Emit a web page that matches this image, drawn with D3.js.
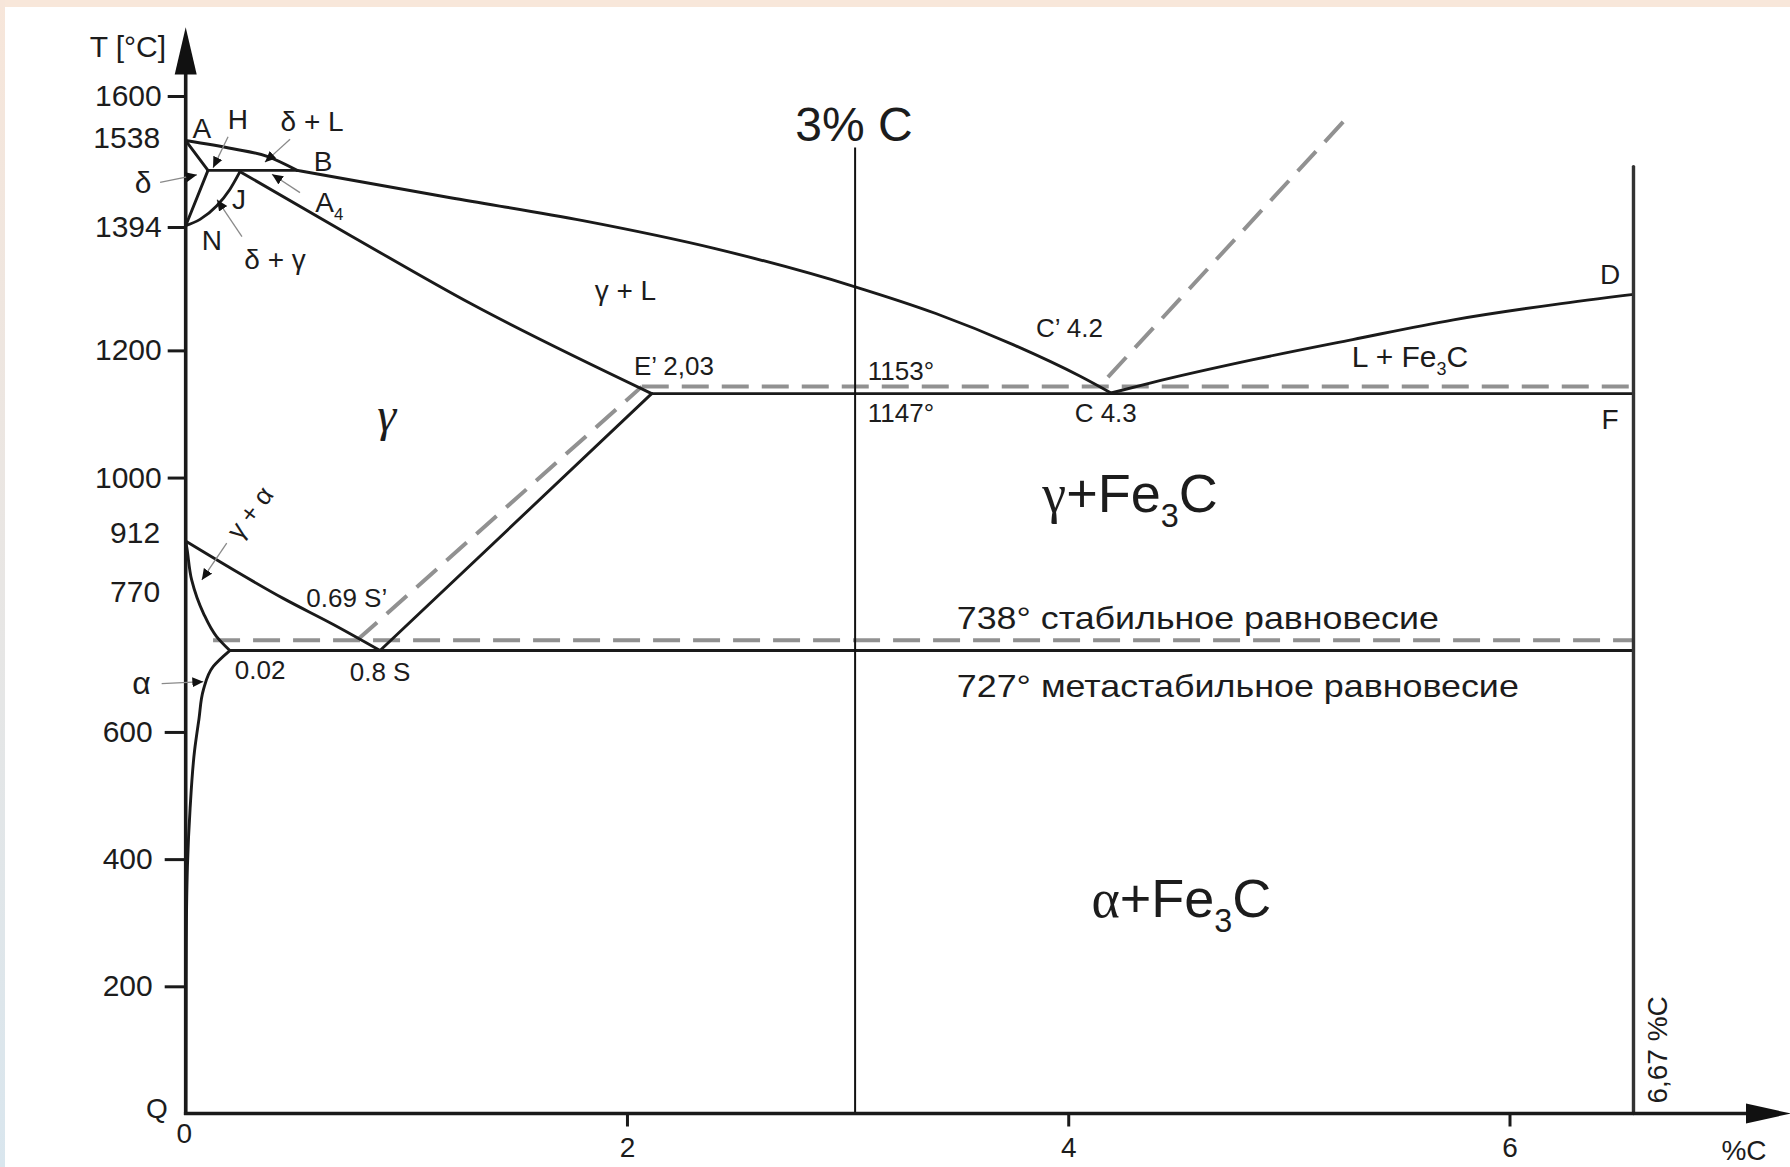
<!DOCTYPE html>
<html><head><meta charset="utf-8">
<script src="https://cdn.jsdelivr.net/npm/d3@7"></script>
<style>
html,body{margin:0;padding:0;background:#fff;}
svg{display:block;}
text{font-family:"Liberation Sans",Arial,sans-serif;fill:#1c1c1c;}
</style></head><body>
<svg id="c" width="1790" height="1167"></svg>
<script>
// ---------- DATA (x = % C, T = °C as placed on the picture) ----------
const xTickValues = [2, 4, 6];
const yTickValues = [200, 400, 600, 1000, 1200, 1394, 1600];
const yMarkLabels = ["1538", "912", "770"];
const yMarkTemps  = [1535, 913, 821];

const liquidusAB = [[0,1530],[0.214,1517],[0.369,1505],[0.505,1483]];
const liquidusBC = [[0.505,1483],[1.2,1440],[1.8,1404],[2.4,1360],[3.034,1300],[3.4,1258],[3.75,1209],[4.05,1160],[4.194,1133]];
const liquidusCD = [[4.194,1133],[4.375,1149],[4.833,1185],[5.289,1217],[5.746,1248],[6.202,1272],[6.562,1288]];
const solidusAH  = [[0,1530],[0.101,1483]];
const lineHN     = [[0.101,1483],[0,1396]];
const lineNJ     = [[0,1396],[0.065,1406],[0.14,1427],[0.2,1453],[0.246,1481]];
const peritectic = [[0.101,1483],[0.505,1483]];
const solidusJE  = [[0.246,1481],[0.75,1380],[1.3,1272],[2.112,1132]];
const lineGS     = [[0,900],[0.216,855],[0.442,810],[0.669,769],[0.881,728]];
const lineGP     = [[0,900],[0.005,890],[0.027,839],[0.08,787],[0.14,750],[0.2,728]];
const linePQ     = [[0.2,728],[0.125,703],[0.08,666],[0.06,620],[0.04,570],[0.02,480],[0.008,390],[0.002,250],[0,0]];
const lineSE     = [[0.881,728],[2.112,1132]];
const eutectic   = [[2.112,1132],[6.562,1132]];
const eutectoid  = [[0.2,728],[6.562,728]];
const cementite  = [[6.562,0],[6.562,1489]];
const alloy3C    = [[3.034,0],[3.034,1519]];

const stableSE        = [[0.776,744],[2.067,1143]];
const stableEutectic  = [[2.067,1143],[6.562,1143]];
const stableEutectoid = [[0.124,744],[6.562,744]];
const stableLiquidus  = [[4.18,1158],[5.264,1566]];

const pointerFrom = [[-0.116,1464],[0.192,1536],[0.473,1532],[0.518,1448],[0.255,1379],[0.186,897],[-0.109,676]];
const pointerTo   = [[0.051,1476],[0.124,1487],[0.359,1496],[0.391,1477],[0.142,1437],[0.073,839],[0.08,679]];

// label texts (parts: [text, kind]) kind: n normal, s subscript, g serif
const labelTexts = [
  [["T [°C]","n"]], [["δ","n"]], [["A","n"]], [["H","n"]], [["δ + L","n"]], [["B","n"]],
  [["A","n"],["4","s"]], [["J","n"]], [["N","n"]], [["δ + γ","n"]], [["γ + L","n"]],
  [["E’ 2,03","n"]], [["1153°","n"]], [["1147°","n"]], [["C’ 4.2","n"]], [["C 4.3","n"]],
  [["L + Fe","n"],["3","s"],["C","n"]], [["D","n"]], [["F","n"]], [["γ","g"]],
  [["γ + α","n"]], [["0.69 S’","n"]], [["0.02","n"]], [["0.8 S","n"]], [["α","n"]],
  [["γ","g"],["+Fe","n"],["3","s"],["C","n"]], [["α","g"],["+Fe","n"],["3","s"],["C","n"]],
  [["738° стабильное равновесие","n"]], [["727° метастабильное равновесие","n"]],
  [["3% C","n"]], [["6,67 %C","n"]], [["%C","n"]], [["Q","n"]], [["0","n"]]
];
const labelAt = [
  [-0.262,1678],[-0.193,1464],[0.073,1550],[0.237,1563],[0.573,1560],[0.623,1497],
  [0.651,1433],[0.242,1437],[0.119,1374],[0.405,1343],[1.993,1294],
  [2.213,1175],[3.242,1167],[3.242,1102],[4.006,1235],[4.17,1102],
  [5.549,1191],[6.456,1319],[6.456,1091],[0.911,1100],
  [0.291,945],[0.73,811],[0.337,698],[0.881,695],[-0.2,677],
  [4.28,975],[4.513,339],
  [3.495,780],[3.495,672],
  [3.029,1555],[6.669,100],[7.063,-58],[-0.131,9],[-0.006,-31]
];

// ---------- LAYOUT ----------
const W = 1790, H = 1167;
const svg = d3.select("#c");
const x = d3.scaleLinear().domain([0, 6]).range([185.7, 1509.5]);
const y = d3.scaleLinear().domain([0, 1600]).range([1113.5, 96]);

const defs = svg.append("defs");
const lg = defs.append("linearGradient").attr("id","lb").attr("x1",0).attr("y1",0).attr("x2",0).attr("y2",1);
lg.append("stop").attr("offset","0%").attr("stop-color","#f7e6da");
lg.append("stop").attr("offset","100%").attr("stop-color","#d9e6ee");
defs.append("marker").attr("id","ah").attr("viewBox","0 -5 10 10").attr("refX",10).attr("refY",0)
  .attr("markerWidth",11).attr("markerHeight",11).attr("markerUnits","userSpaceOnUse").attr("orient","auto")
  .append("path").attr("d","M0,-4.5L10,0L0,4.5Z").attr("fill","#111");

svg.append("rect").attr("width",W).attr("height",H).attr("fill","#fff");
svg.append("rect").attr("x",0).attr("y",0).attr("width",W).attr("height",7).attr("fill","#f8e7da");
svg.append("rect").attr("x",0).attr("y",0).attr("width",5).attr("height",H).attr("fill","url(#lb)");

const lineX = d3.line().x(d => x(d[0])).y(d => y(d[1])).curve(d3.curveMonotoneX);
const lineY = d3.line().x(d => x(d[0])).y(d => y(d[1])).curve(d3.curveMonotoneY);
const lineL = d3.line().x(d => x(d[0])).y(d => y(d[1]));

// dashed stable-equilibrium lines
const gDash = svg.append("g").attr("fill","none").attr("stroke","#919191").attr("stroke-width",4).attr("stroke-dasharray","27,13");
[stableSE, stableEutectic, stableEutectoid, stableLiquidus].forEach(d => gDash.append("path").attr("d", lineL(d)));

// solid lines
const gSolid = svg.append("g").attr("fill","none").attr("stroke","#1a1a1a").attr("stroke-width",2.9).attr("stroke-linejoin","round").attr("stroke-linecap","round");
[liquidusAB, liquidusBC, liquidusCD, lineNJ, solidusJE, lineGS].forEach(d => gSolid.append("path").attr("d", lineX(d)));
[lineGP, linePQ].forEach(d => gSolid.append("path").attr("d", lineY(d)));
[solidusAH, lineHN, peritectic, lineSE, eutectic, eutectoid].forEach(d => gSolid.append("path").attr("d", lineL(d)));
gSolid.append("path").attr("d", lineL(cementite)).attr("stroke-width",3.4).attr("stroke","#333");
svg.append("path").attr("d", lineL(alloy3C)).attr("fill","none").attr("stroke","#111").attr("stroke-width",2);

// axes
const fmt = d3.format("d");
const yAxis = d3.axisLeft(y).tickValues(yTickValues).tickFormat(fmt).tickSize(18).tickPadding(6).tickSizeOuter(0);
const gy = svg.append("g").attr("transform",`translate(${x(0)},0)`).call(yAxis);
gy.select(".domain").remove();
gy.selectAll(".tick line").attr("stroke","#1a1a1a").attr("stroke-width",3);
gy.selectAll(".tick text").attr("font-size",30).attr("fill","#1c1c1c").attr("font-family",'"Liberation Sans",Arial,sans-serif');
// lower ticks are a little longer in the original, labels sit further left
gy.selectAll(".tick").filter(d => d < 1000).select("line").attr("x2", -21);
gy.selectAll(".tick").filter(d => d < 1000).select("text").attr("x", -33);

const xAxis = d3.axisBottom(x).tickValues(xTickValues).tickFormat(fmt).tickSize(13).tickPadding(11).tickSizeOuter(0);
const gx = svg.append("g").attr("transform",`translate(0,${y(0)})`).call(xAxis);
gx.select(".domain").remove();
gx.selectAll(".tick line").attr("stroke","#1a1a1a").attr("stroke-width",3);
gx.selectAll(".tick text").attr("font-size",28).attr("fill","#1c1c1c").attr("font-family",'"Liberation Sans",Arial,sans-serif');

// axis lines with arrows
svg.append("line").attr("x1",x(0)).attr("x2",x(0)).attr("y1",y(0)+1.5).attr("y2",y(1640)).attr("stroke","#1a1a1a").attr("stroke-width",3.6);
svg.append("path").attr("fill","#111")
  .attr("d",`M${x(0)},${y(1708)}L${x(0)+11},${y(1634)}L${x(0)-11},${y(1634)}Z`);
svg.append("line").attr("x1",x(0)-1.8).attr("x2",x(7.1)).attr("y1",y(0)).attr("y2",y(0)).attr("stroke","#1a1a1a").attr("stroke-width",3.6);
svg.append("path").attr("fill","#111")
  .attr("d",`M${x(7.275)},${y(0)}L${x(7.072)},${y(0)-10}L${x(7.072)},${y(0)+10}Z`);

// extra temperature labels without ticks
yMarkLabels.forEach((t,i) => {
  svg.append("text").attr("x", x(-0.116)).attr("y", y(yMarkTemps[i])).attr("dy","0.35em")
    .attr("text-anchor","end").attr("font-size",30).text(t);
});

// pointer arrows
pointerFrom.forEach((f,i) => {
  const t = pointerTo[i];
  svg.append("line").attr("x1",x(f[0])).attr("y1",y(f[1])).attr("x2",x(t[0])).attr("y2",y(t[1]))
    .attr("stroke","#8a8a8a").attr("stroke-width",1.3).attr("marker-end","url(#ah)");
});

// labels
const sizes   = [30,30,28,28,28,28,28,28,28,28,28,26,26,26,26,26,30,28,28,48,26,26,26,26,32,54,54,32,32,48,28,28,28,28];
const anchors = {27:"start",28:"start"};
const rotations = {20:-53, 30:-90};
const lengths = {27:482, 28:562};
labelTexts.forEach((parts,i) => {
  const px = x(labelAt[i][0]), py = y(labelAt[i][1]);
  const fs = sizes[i];
  const t = svg.append("text").attr("x",px).attr("y",py + fs*0.35).attr("font-size",fs)
    .attr("text-anchor", anchors[i] || "middle");
  if (rotations[i] !== undefined) t.attr("transform",`rotate(${rotations[i]},${px},${py})`);
  if (lengths[i]) t.attr("textLength",lengths[i]).attr("lengthAdjust","spacingAndGlyphs");
  let shifted = false;
  parts.forEach(p => {
    const s = t.append("tspan").text(p[0]);
    if (p[1] === "s") { s.attr("font-size", fs*0.6).attr("dy", fs*0.28); shifted = true; }
    else {
      if (shifted) { s.attr("dy", -fs*0.28); shifted = false; }
      if (p[1] === "g") s.attr("font-family",'"Liberation Serif","DejaVu Serif",serif').attr("font-style", i===19 ? "italic" : "normal");
    }
  });
});
</script></body></html>
